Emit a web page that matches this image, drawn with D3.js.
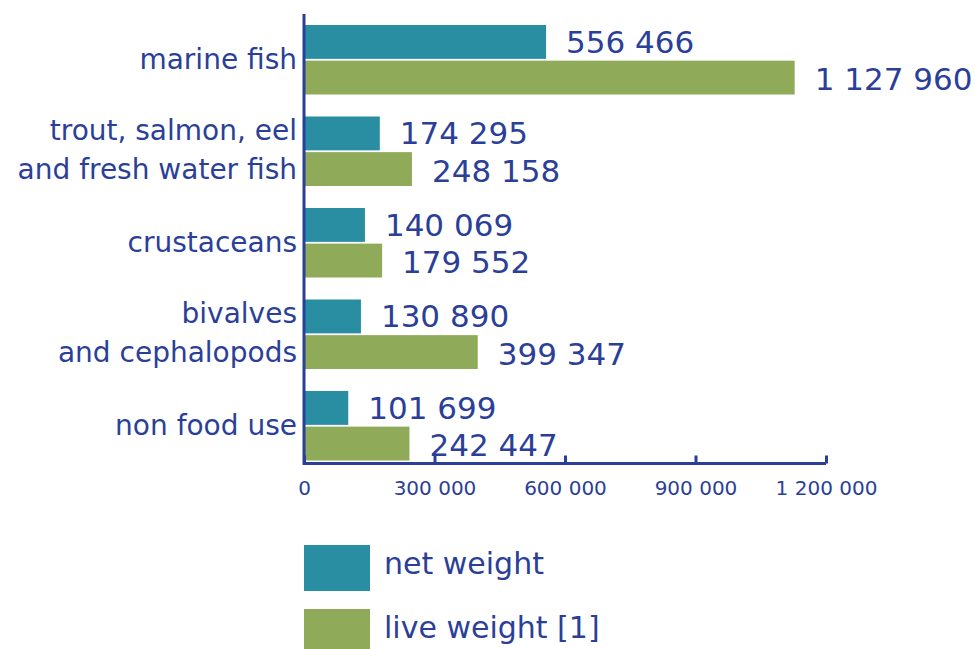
<!DOCTYPE html>
<html><head><meta charset="utf-8">
<script src="https://cdn.jsdelivr.net/npm/d3@7"></script>
<style>body{margin:0;background:#fff}svg{display:block}text{font-family:"DejaVu Sans",sans-serif;fill:#2b3f98}</style>
</head><body>
<svg id="c" width="975" height="649"></svg>
<script>
const categories = [["marine fish"],["trout, salmon, eel","and fresh water fish"],["crustaceans"],["bivalves","and cephalopods"],["non food use"]];
const netWeight = [556466, 174295, 140069, 130890, 101699];
const liveWeight = [1127960, 248158, 179552, 399347, 242447];
const ticks = [0, 300000, 600000, 900000, 1200000];
const seriesNames = ["net weight", "live weight [1]"];
const colors = ["#2a8ea3", "#8fab5a"];
const ink = "#2b3f98";

const svg = d3.select("#c");
const fmt = v => d3.format(",")(v).replace(/,/g, " ");
const x = d3.scaleLinear().domain([0, 1200000]).range([304, 826]);
const y = d3.scaleBand().domain(d3.range(categories.length)).range([25, 482.5]).paddingInner(0).paddingOuter(0);
const inner = d3.scaleBand().domain([0,1]).range([0, 69.5]).paddingInner(0.05);

const g = svg.append("g");
categories.forEach((c, i) => {
  [netWeight[i], liveWeight[i]].forEach((v, s) => {
    const yy = y(i) + inner(s);
    g.append("rect").attr("x", x(0)).attr("y", yy).attr("width", x(v) - x(0)).attr("height", inner.bandwidth()).attr("fill", colors[s]);
    g.append("text").attr("x", x(v) + 20).attr("y", yy + inner.bandwidth()/2 + (s === 0 ? 0 : 2)).attr("dy", "0.35em")
      .style("font-size", "31px").text(fmt(v));
  });
  const cy = y(i) + 34;
  if (c.length === 1) {
    g.append("text").attr("x", 297).attr("y", cy).attr("dy", "0.35em").attr("text-anchor", "end").style("font-size", "28px").text(c[0]);
  } else {
    c.forEach((line, k) => {
      g.append("text").attr("x", 297).attr("y", cy + (k === 0 ? -20 : 19)).attr("dy", "0.35em").attr("text-anchor", "end").style("font-size", "28px").text(line);
    });
  }
});

// axes
svg.append("line").attr("x1", x(0)).attr("x2", x(0)).attr("y1", 14).attr("y2", 465).attr("stroke", ink).attr("stroke-width", 3);
const ax = svg.append("g").attr("transform", "translate(0,463.5)")
  .call(d3.axisBottom(x).tickValues(ticks).tickSize(-8).tickPadding(17).tickFormat(fmt));
ax.select(".domain").attr("stroke", ink).attr("stroke-width", 3).attr("d", `M${x(0)},0H${x(1200000)}`);
ax.selectAll(".tick line").attr("stroke", ink).attr("stroke-width", 3);
ax.selectAll(".tick text").style("font-size", "20px").style("fill", ink).attr("font-family", null);

// legend
seriesNames.forEach((n, i) => {
  const ly = 545 + i * 64;
  svg.append("rect").attr("x", 304).attr("y", ly).attr("width", 66).attr("height", 46).attr("fill", colors[i]);
  svg.append("text").attr("x", 384).attr("y", ly + 18).attr("dy", "0.35em").style("font-size", "30px").text(n);
});
</script>
</body></html>
